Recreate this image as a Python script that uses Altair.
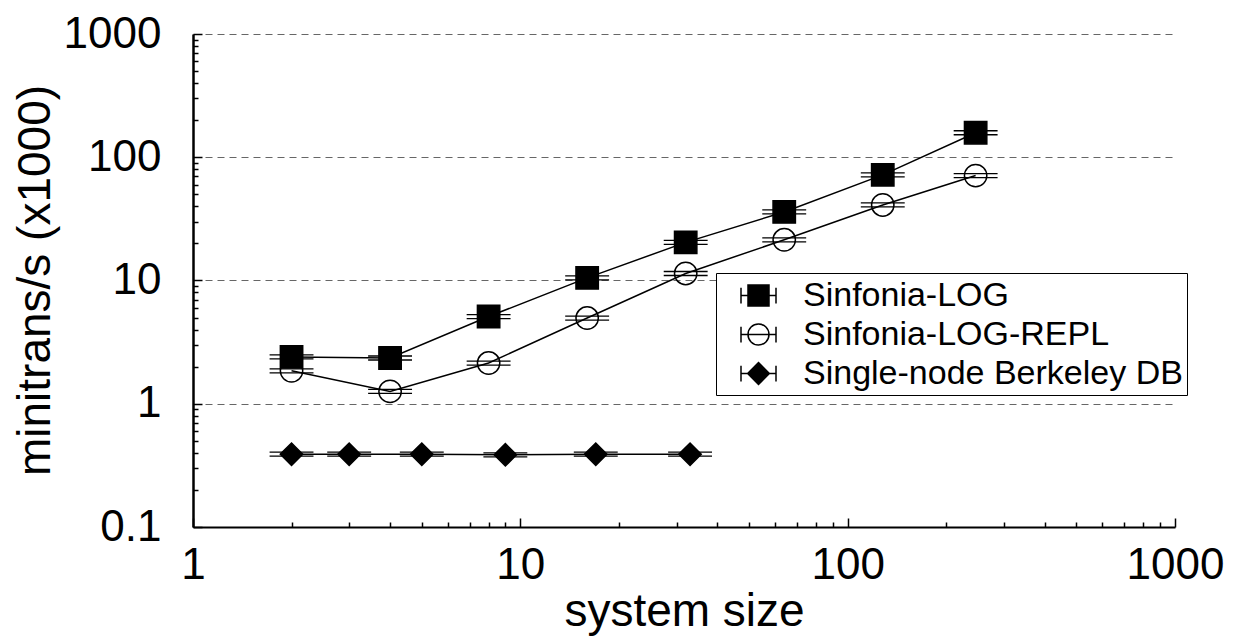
import altair as alt
import pandas as pd

# ---- data ----
series_names = ["Sinfonia-LOG", "Sinfonia-LOG-REPL", "Single-node Berkeley DB"]
x_log = [2, 4, 8, 16, 32, 64, 128, 246]
y_log = [2.4, 2.35, 5.1, 10.5, 20.4, 36.0, 72.0, 158.0]
x_repl = [2, 4, 8, 16, 32, 64, 128, 246]
y_repl = [1.85, 1.26, 2.14, 4.96, 11.4, 21.4, 41.0, 71.0]
x_bdb = [2, 3, 5, 9, 17, 33]
y_bdb = [0.39, 0.39, 0.39, 0.385, 0.39, 0.39]
x_err_factor = [1.167, 1.167, 1.167]  # horizontal error bar half-width (multiplicative), per series

x_tick_labels = [1, 10, 100, 1000]
y_tick_labels = [0.1, 1, 10, 100, 1000]

rows = []
for name, xs, ys, f in zip(series_names, [x_log, x_repl, x_bdb], [y_log, y_repl, y_bdb], x_err_factor):
    for xv, yv in zip(xs, ys):
        rows.append({"series": name, "x": xv, "y": yv, "xlo": xv / f, "xhi": xv * f})
df = pd.DataFrame(rows)

FONT = "Liberation Sans"

x_minor = [k * 10 ** e for e in range(0, 3) for k in range(2, 10)]
y_minor = [round(k * 10 ** e, 4) for e in range(-1, 3) for k in range(2, 10)]

xscale = alt.Scale(type="log", domain=[1, 1000], nice=False)
yscale = alt.Scale(type="log", domain=[0.1, 1000], nice=False)

base = alt.Chart(df)

# main axes, labels, grid + connecting lines
lines = base.mark_line(color="black", strokeWidth=1.5).encode(
    x=alt.X("x:Q", scale=xscale,
            axis=alt.Axis(orient="bottom", values=x_tick_labels, format="~g", title="system size",
                          grid=False, ticks=False, tickSize=0, domainColor="black",
                          domainWidth=2, labelFont=FONT, labelFontSize=44, labelColor="black",
                          labelPadding=16, titleFont=FONT, titleFontSize=46,
                          titleFontWeight="normal", titleColor="black",
                          titleBaseline="alphabetic", titleY=98, titleX=491,
                          labelFlush=False)),
    y=alt.Y("y:Q", scale=yscale,
            axis=alt.Axis(orient="left", values=y_tick_labels, format="~g", title="minitrans/s (x1000)",
                          grid=True, gridDash=[7, 5], gridColor="#666666", gridWidth=1.2,
                          ticks=False, tickSize=0, domainColor="black", domainWidth=2.5,
                          labelFont=FONT, labelFontSize=44, labelColor="black",
                          labelPadding=32, titleFont=FONT, titleFontSize=46,
                          titleFontWeight="normal", titleColor="black",
                          titleX=-134, titleY=246, titleBaseline="bottom",
                          labelFlush=False)),
    detail="series:N",
)

tick_common = dict(labels=False, domain=False, grid=False, ticks=True,
                   tickColor="black", tickWidth=1.5, title=None)

# horizontal error bars (inward major/minor ticks ride on these layers' axes)
err_a = base.mark_rule(color="black", strokeWidth=1.3, yOffset=-2).encode(
    x=alt.X("xlo:Q", scale=xscale,
            axis=alt.Axis(orient="bottom", values=x_tick_labels, tickSize=9, offset=-9, **tick_common)),
    x2="xhi:Q",
    y=alt.Y("y:Q", scale=yscale,
            axis=alt.Axis(orient="left", values=y_tick_labels, tickSize=9, offset=-9, **tick_common)),
)
err_b = base.mark_rule(color="black", strokeWidth=1.3, yOffset=2).encode(
    x=alt.X("xlo:Q", scale=xscale,
            axis=alt.Axis(orient="bottom", values=x_minor, tickSize=5, offset=-5, **tick_common)),
    x2="xhi:Q",
    y=alt.Y("y:Q", scale=yscale,
            axis=alt.Axis(orient="left", values=y_minor, tickSize=5, offset=-5, **tick_common)),
)

shape_dom = series_names
fill_range = ["black", "transparent", "black"]

points = base.mark_point(filled=True, stroke="black", strokeWidth=1.5, opacity=1).encode(
    x=alt.X("x:Q", scale=xscale, axis=None),
    y=alt.Y("y:Q", scale=yscale, axis=None),
    shape=alt.Shape("series:N", scale=alt.Scale(domain=shape_dom, range=["square", "circle", "diamond"]),
                    legend=None),
    fill=alt.Fill("series:N", scale=alt.Scale(domain=shape_dom, range=fill_range), legend=None),
    size=alt.value(500),
)

sq = "M-1,0H1M-1,-0.45V0.45M1,-0.45V0.45M-0.6,-0.6H0.6V0.6H-0.6Z"
ci = "M-1,0H1M-1,-0.45V0.45M1,-0.45V0.45M0.6,0A0.6,0.6 0 1,1 -0.6,0A0.6,0.6 0 1,1 0.6,0Z"
di = "M-1,0H1M-1,-0.45V0.45M1,-0.45V0.45M0,-0.62L0.62,0L0,0.62L-0.62,0Z"

legend_props = dict(
    title=None, orient="none", legendX=523, legendY=239,
    strokeColor="black", fillColor="white", padding=4,
    symbolSize=1225, symbolStrokeColor="black", symbolStrokeWidth=1.5,
    symbolOpacity=1, symbolOffset=20, labelFont=FONT, labelFontSize=34,
    labelColor="black", labelOffset=26, rowPadding=3, labelLimit=600,
)

legend_layer = base.mark_point(filled=True, strokeWidth=1.5, opacity=0).encode(
    x=alt.X("x:Q", scale=xscale, axis=None),
    y=alt.Y("y:Q", scale=yscale, axis=None),
    shape=alt.Shape("series:N", scale=alt.Scale(domain=shape_dom, range=[sq, ci, di]),
                    legend=alt.Legend(**legend_props)),
    fill=alt.Fill("series:N", scale=alt.Scale(domain=shape_dom, range=fill_range),
                  legend=alt.Legend(**legend_props)),
    stroke=alt.Stroke("series:N", scale=alt.Scale(domain=shape_dom, range=["black", "black", "black"]),
                      legend=alt.Legend(**legend_props)),
)

chart = alt.layer(lines, err_a, err_b, points, legend_layer).resolve_scale(
    shape="independent", fill="independent", stroke="independent"
).resolve_axis(x="independent", y="independent").properties(
    width=982, height=493,
    autosize="none",
    padding={"left": 185, "top": 26, "right": 55, "bottom": 110},
    background="white",
).configure_view(stroke=None)

chart.save("out.html", embed_options={"renderer": "svg", "actions": False})
